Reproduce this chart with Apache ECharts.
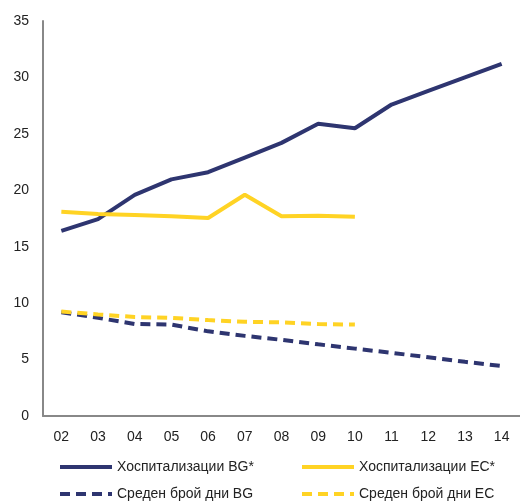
<!DOCTYPE html>
<html><head><meta charset="utf-8">
<script src="https://cdn.jsdelivr.net/npm/echarts@6/dist/echarts.min.js"></script>
<style>html,body{margin:0;padding:0;background:#fff}#c{width:520px;height:503px}</style>
</head><body><div id="c"></div>
<script>
var categories = ['02','03','04','05','06','07','08','09','10','11','12','13','14'];
var hospBG = [16.4, 17.45, 19.6, 20.97, 21.6, 22.9, 24.2, 25.9, 25.5, 27.6, 28.8, 30.0, 31.2];
var hospEC = [18.1, 17.9, 17.8, 17.7, 17.55, 19.6, 17.7, 17.75, 17.65];
var daysBG = [9.2, 8.7, 8.15, 8.1, 7.5, 7.1, 6.75, 6.35, 5.97, 5.6, 5.2, 4.8, 4.43];
var daysEC = [9.25, 9.0, 8.77, 8.7, 8.5, 8.35, 8.3, 8.15, 8.1];
var names = ['Хоспитализации BG*', 'Хоспитализации ЕС*', 'Среден брой дни BG', 'Среден брой дни ЕС'];
var yTicks = [0, 5, 10, 15, 20, 25, 30, 35];

var NAVY = '#2E3570', YEL = '#FFD324';
var chart = echarts.init(document.getElementById('c'), null, {renderer: 'canvas'});
var font = 'Liberation Sans, Arial, sans-serif';
function leg(name, left, top) {
  return {
    data: [name], left: left, top: top,
    itemWidth: 52, itemHeight: 14,
    itemStyle: {opacity: 0},
    lineStyle: {width: 4},
    textStyle: {fontSize: 14, fontFamily: font, color: '#222'}
  };
}
chart.setOption({
  animation: false,
  grid: {left: 43, right: -7, top: 21, height: 395},
  xAxis: {
    type: 'category', data: categories, boundaryGap: true,
    axisLine: {lineStyle: {color: '#888888', width: 2}},
    axisTick: {show: false},
    axisLabel: {color: '#222', fontSize: 14, fontFamily: font, margin: 14}
  },
  yAxis: {
    type: 'value', min: yTicks[0], max: yTicks[yTicks.length-1], interval: 5,
    axisLine: {show: true, lineStyle: {color: '#888888', width: 2}},
    axisTick: {show: false},
    splitLine: {show: false},
    axisLabel: {color: '#222', fontSize: 14, fontFamily: font, margin: 14}
  },
  legend: [leg(names[0], 53, 455), leg(names[2], 53, 482), leg(names[1], 295, 455), leg(names[3], 295, 482)],
  series: [
    {name: names[0], type: 'line', data: hospBG, symbol: 'none', lineStyle: {color: NAVY, width: 4}, itemStyle: {color: NAVY}},
    {name: names[1], type: 'line', data: hospEC, symbol: 'none', lineStyle: {color: YEL, width: 4}, itemStyle: {color: YEL}},
    {name: names[2], type: 'line', data: daysBG, symbol: 'none', lineStyle: {color: NAVY, width: 4, type: [10, 6]}, itemStyle: {color: NAVY}},
    {name: names[3], type: 'line', data: daysEC, symbol: 'none', lineStyle: {color: YEL, width: 4, type: [10, 6]}, itemStyle: {color: YEL}}
  ]
});
</script></body></html>
